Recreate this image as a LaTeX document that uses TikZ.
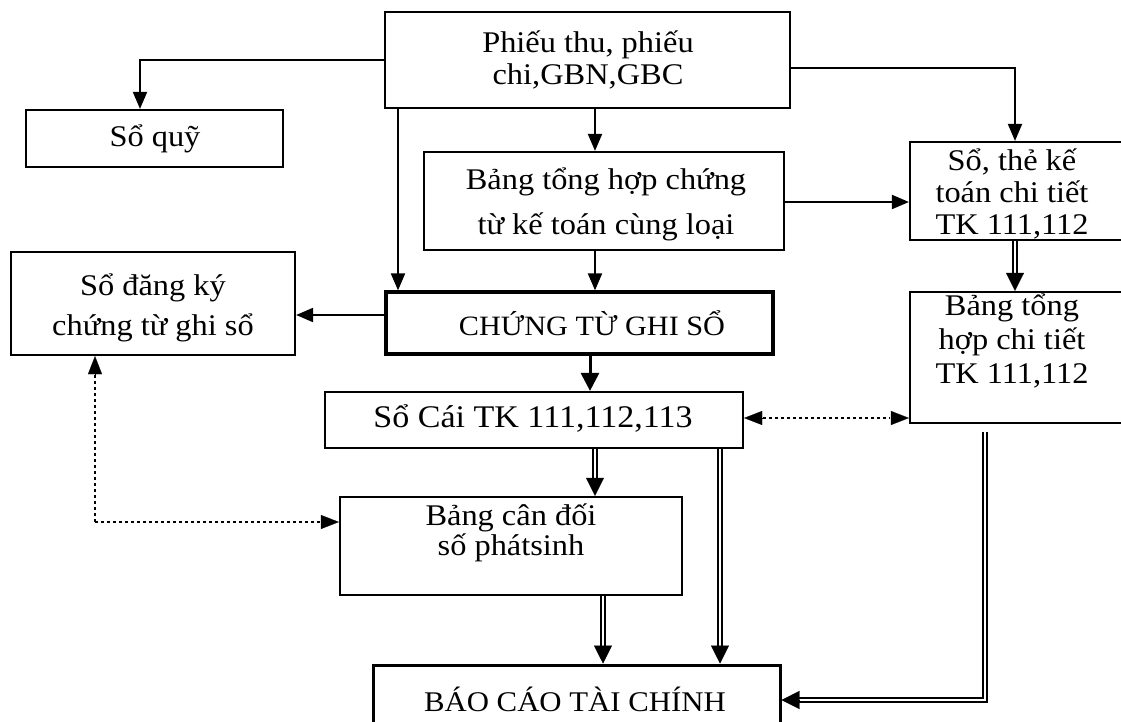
\documentclass[tikz,border=0pt]{standalone}
\usepackage{fontspec}
\setmainfont{Liberation Serif}[FakeStretch=1.08]
\usetikzlibrary{arrows.meta,calc}
\begin{document}
\begin{tikzpicture}[x=1pt,y=-1pt,
  box/.style={draw, line width=2.2pt, rectangle, inner sep=0pt},
  lbl/.style={align=center, inner sep=0pt},
  arr/.style={line width=2pt, -{Triangle[length=17pt,width=14pt]}},
  thk/.style={line width=3pt, -{Triangle[length=18pt,width=18pt]}},
  dbl/.style={double, double distance=2.4pt, line width=1.5pt, shorten >=15pt},
  dtip/.style={line width=0.2pt, -{Triangle[length=18pt,width=18pt]}},
  dots/.style={line width=2pt, dash pattern=on 3pt off 3pt},
  dottip/.style={line width=0.2pt, -{Triangle[length=18pt,width=14pt]}}
]
\useasboundingbox (0,0) rectangle (1121,722);
\def\fs#1{\fontsize{30}{#1}\selectfont}
% boxes
\node[box, minimum width=405pt, minimum height=96pt] (top) at (587.5,60) {};
\node[box, minimum width=257pt, minimum height=57pt] (quy) at (154.5,138.5) {};
\node[box, minimum width=360pt, minimum height=98pt] (bth) at (604,201) {};
\node[box, minimum width=214pt, minimum height=98pt] (sothe) at (1017,191) {};
\node[box, minimum width=284pt, minimum height=103pt] (dk) at (153,303.5) {};
\node[box, line width=3.2pt, minimum width=387pt, minimum height=62pt] (ctgs) at (579.5,323) {};
\node[box, minimum width=214pt, minimum height=131pt] (bthct) at (1017,357.5) {};
\node[box, minimum width=418pt, minimum height=56pt] (socai) at (534,420) {};
\node[box, minimum width=342pt, minimum height=98pt] (bcd) at (511,546) {};
\node[box, line width=3pt, minimum width=407pt, minimum height=66pt] (bctc) at (576.5,698) {};
% labels
\node[lbl, font=\fs{32}] (ttop) at (588,60) {Phiếu thu, phiếu\\chi,GBN,GBC};
\node[lbl, font=\fs{32}] (tquy) at (155,139) {Sổ quỹ};
\node[lbl, font=\fs{45}] (tbth) at (606,204) {Bảng tổng hợp chứng\\từ kế toán cùng loại};
\node[lbl, font=\fs{32}] (tsothe) at (1012,194) {Sổ, thẻ kế\\toán chi tiết\\TK 111,112};
\node[lbl, font=\fs{40}] (tdk) at (153,308) {Sổ đăng ký\\chứng từ ghi sổ};
\node[lbl, font=\fontsize{28}{32}\selectfont] (tctgs) at (592,323) {CHỨNG TỪ GHI SỔ};
\node[lbl, font=\fs{34}] (tbthct) at (1012,341) {Bảng tổng\\hợp chi tiết\\TK 111,112};
\node[lbl, font=\fontsize{31.5}{34}\selectfont] (tsocai) at (533,419) {Sổ Cái TK 111,112,113};
\node[lbl, font=\fs{30}] (tbcd) at (511,533) {Bảng cân đối\\số phátsinh};
\node[lbl, font=\fontsize{28.5}{32}\selectfont] (tbctc) at (575,699) {BÁO CÁO TÀI CHÍNH};
% helper coordinates
\coordinate (x140) at (140,0);
\coordinate (x1015) at (1015,0);
\coordinate (x398) at (398,0);
\coordinate (x595) at (595,0);
\coordinate (x590) at (590,0);
\coordinate (x720) at (720,0);
\coordinate (x603) at (603,0);
\coordinate (x985) at (985,0);
\coordinate (x95) at (95,0);
\coordinate (y68) at (0,68);
\coordinate (y202) at (0,202);
\coordinate (y315) at (0,315);
\coordinate (y418) at (0,418);
\coordinate (y522) at (0,522);
\coordinate (y700) at (0,700);
% single arrows
\draw[arr] (top.west) -| (x140 |- quy.north);
\draw[arr] (top.east |- y68) -| (x1015 |- sothe.north);
\draw[arr] (x398 |- top.south) -- (x398 |- ctgs.north);
\draw[arr] (x595 |- top.south) -- (x595 |- bth.north);
\draw[arr] (bth.east |- y202) -- (sothe.west |- y202);
\draw[arr] (x595 |- bth.south) -- (x595 |- ctgs.north);
\draw[arr] (ctgs.west |- y315) -- (dk.east |- y315);
\draw[thk] (x590 |- ctgs.south) -- (x590 |- socai.north);
% double arrows
\draw[dbl] (x1015 |- sothe.south) -- (x1015 |- bthct.north);
\draw[dtip] ([yshift=18pt]x1015 |- bthct.north) -- (x1015 |- bthct.north);
\draw[dbl] (x595 |- socai.south) -- (x595 |- bcd.north);
\draw[dtip] ([yshift=18pt]x595 |- bcd.north) -- (x595 |- bcd.north);
\draw[dbl] (x720 |- socai.south) -- (x720 |- bctc.north);
\draw[dtip] ([yshift=18pt]x720 |- bctc.north) -- (x720 |- bctc.north);
\draw[dbl] (x603 |- bcd.south) -- (x603 |- bctc.north);
\draw[dtip] ([yshift=18pt]x603 |- bctc.north) -- (x603 |- bctc.north);
\draw[dbl, shorten <=8pt] (x985 |- bthct.south) |- (bctc.east |- y700);
\draw[dtip] ([xshift=18pt]bctc.east |- y700) -- (bctc.east |- y700);
% dotted connectors
\draw[dots, shorten <=19pt, shorten >=19pt] (socai.east |- y418) -- (bthct.west |- y418);
\draw[dottip] ([xshift=18pt]socai.east |- y418) -- (socai.east |- y418);
\draw[dottip] ([xshift=-18pt]bthct.west |- y418) -- (bthct.west |- y418);
\draw[dots, shorten >=16pt] (x95 |- y522) -- (x95 |- dk.south);
\draw[dottip] ([yshift=-18pt]x95 |- dk.south) -- (x95 |- dk.south);
\draw[dots, shorten >=16pt] (x95 |- y522) -- (bcd.west |- y522);
\draw[dottip] ([xshift=-18pt]bcd.west |- y522) -- (bcd.west |- y522);
\end{tikzpicture}
\end{document}
